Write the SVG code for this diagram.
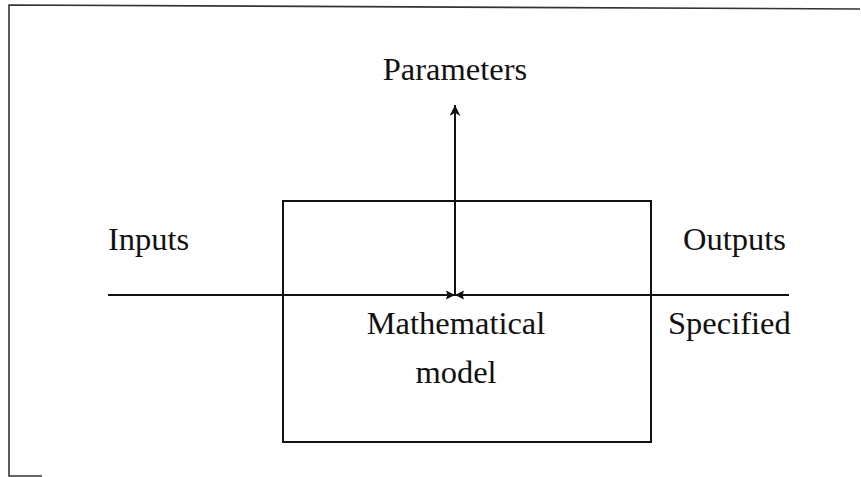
<svg xmlns="http://www.w3.org/2000/svg" width="861" height="477" viewBox="0 0 861 477">
<style>
.t{font-family:"Liberation Serif","Times New Roman",serif;font-size:32.5px;fill:#111}
.ln{stroke:#111;stroke-width:2;fill:none}
.fr{stroke:#333;stroke-width:1.6;fill:none}
</style>
<defs>
<marker id="ah" viewBox="0 0 10 10" refX="10" refY="5" markerWidth="9" markerHeight="13" markerUnits="userSpaceOnUse" orient="auto">
<path d="M0,0 L10,5 L0,10 L1.5,5 Z" fill="#111"/>
</marker>
<marker id="ah2" viewBox="0 0 10 10" refX="10" refY="5" markerWidth="12" markerHeight="11" markerUnits="userSpaceOnUse" orient="auto">
<path d="M0,0 L10,5 L0,10 L3,5 Z" fill="#111"/>
</marker>
</defs>
<rect width="861" height="477" fill="#fff"/>
<g id="frame">
<path class="fr" d="M860,9 L9,5 L9,476 L42,476"/>
</g>
<g id="model">
<rect class="ln" x="283" y="201" width="368" height="241"/>
<text class="t" x="456" y="334" text-anchor="middle">Mathematical</text>
<text class="t" x="456" y="383" text-anchor="middle">model</text>
</g>
<g id="parameters"><text class="t" x="455" y="80" text-anchor="middle">Parameters</text></g>
<g id="inputs"><text class="t" x="108" y="250">Inputs</text></g>
<g id="outputs"><text class="t" x="683" y="250">Outputs</text></g>
<g id="specified"><text class="t" x="668" y="334">Specified</text></g>
<g id="connectors">
<line class="ln" x1="108" y1="295" x2="455" y2="295" marker-end="url(#ah)"/>
<line class="ln" x1="789" y1="295" x2="455" y2="295" marker-end="url(#ah)"/>
<line class="ln" x1="455" y1="295" x2="455" y2="105" marker-end="url(#ah2)"/>
</g>
</svg>
